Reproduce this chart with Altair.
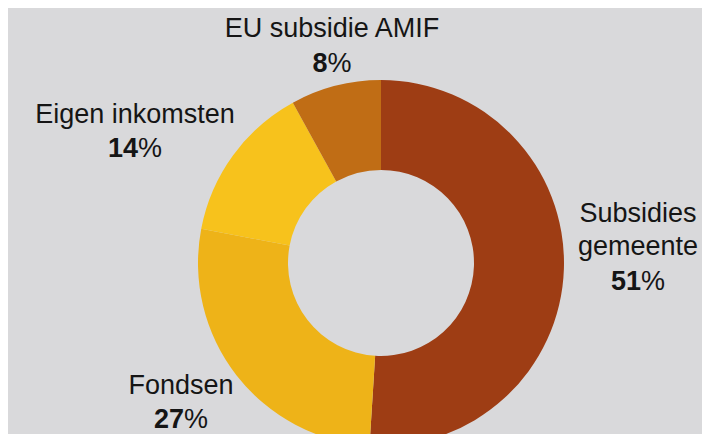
import altair as alt
import pandas as pd

# ---- data ----
categories = ["Subsidies gemeente", "Fondsen", "Eigen inkomsten", "EU subsidie AMIF"]
label_lines = ["Subsidies\ngemeente", "Fondsen", "Eigen inkomsten", "EU subsidie AMIF"]
shares = [51, 27, 14, 8]

# ---- styles / layout (chart pixels) ----
colors = ["#9e3d14", "#eeb318", "#f7c21c", "#c06d15"]
BG = "#d9d9db"
CX, CY = 373, 255
R_OUT, R_IN = 183, 93
label_x = [630, 173, 127, 324]
label_y = [214, 386, 115, 29]
pct_y = [282, 420, 149, 64]
FONT = "Liberation Sans"
FS = 27

df = pd.DataFrame({
    "cat": categories,
    "label": label_lines,
    "share": shares,
    "order": list(range(len(categories))),
    "num": [str(s) for s in shares],
    "sign": ["%"] * len(shares),
    "lx": label_x,
    "ly": label_y,
    "py": pct_y,
})
# junction between bold digits and regular percent sign, so the pair is centred
digit_w, pct_w = 0.556 * FS, 0.889 * FS
df["jx"] = [x - (len(n) * digit_w + pct_w) / 2 + len(n) * digit_w for x, n in zip(df["lx"], df["num"])]

base = alt.Chart(df)

arc = base.mark_arc(outerRadius=R_OUT, innerRadius=R_IN).encode(
    theta=alt.Theta("share:Q", stack=True),
    order=alt.Order("order:Q"),
    color=alt.Color("cat:N", scale=alt.Scale(domain=categories, range=colors), legend=None),
    x=alt.value(CX),
    y=alt.value(CY),
)

names = base.mark_text(
    font=FONT, fontSize=FS, lineHeight=33, align="center", baseline="alphabetic",
    color="#151515", lineBreak="\n",
).encode(
    x=alt.X("lx:Q", scale=None),
    y=alt.Y("ly:Q", scale=None),
    text="label:N",
)

nums = base.mark_text(
    font=FONT, fontSize=FS, fontWeight="bold", align="right", baseline="alphabetic",
    color="#151515",
).encode(
    x=alt.X("jx:Q", scale=None),
    y=alt.Y("py:Q", scale=None),
    text="num:N",
)

signs = base.mark_text(
    font=FONT, fontSize=FS, align="left", baseline="alphabetic",
    color="#151515",
).encode(
    x=alt.X("jx:Q", scale=None),
    y=alt.Y("py:Q", scale=None),
    text="sign:N",
)

chart = alt.layer(arc, names, nums, signs).properties(
    width=694, height=426, padding=0, background=BG,
    autosize=alt.AutoSizeParams(type="none"),
).configure_view(stroke=None)

chart.save("out.html", embed_options={"renderer": "svg", "actions": False})
